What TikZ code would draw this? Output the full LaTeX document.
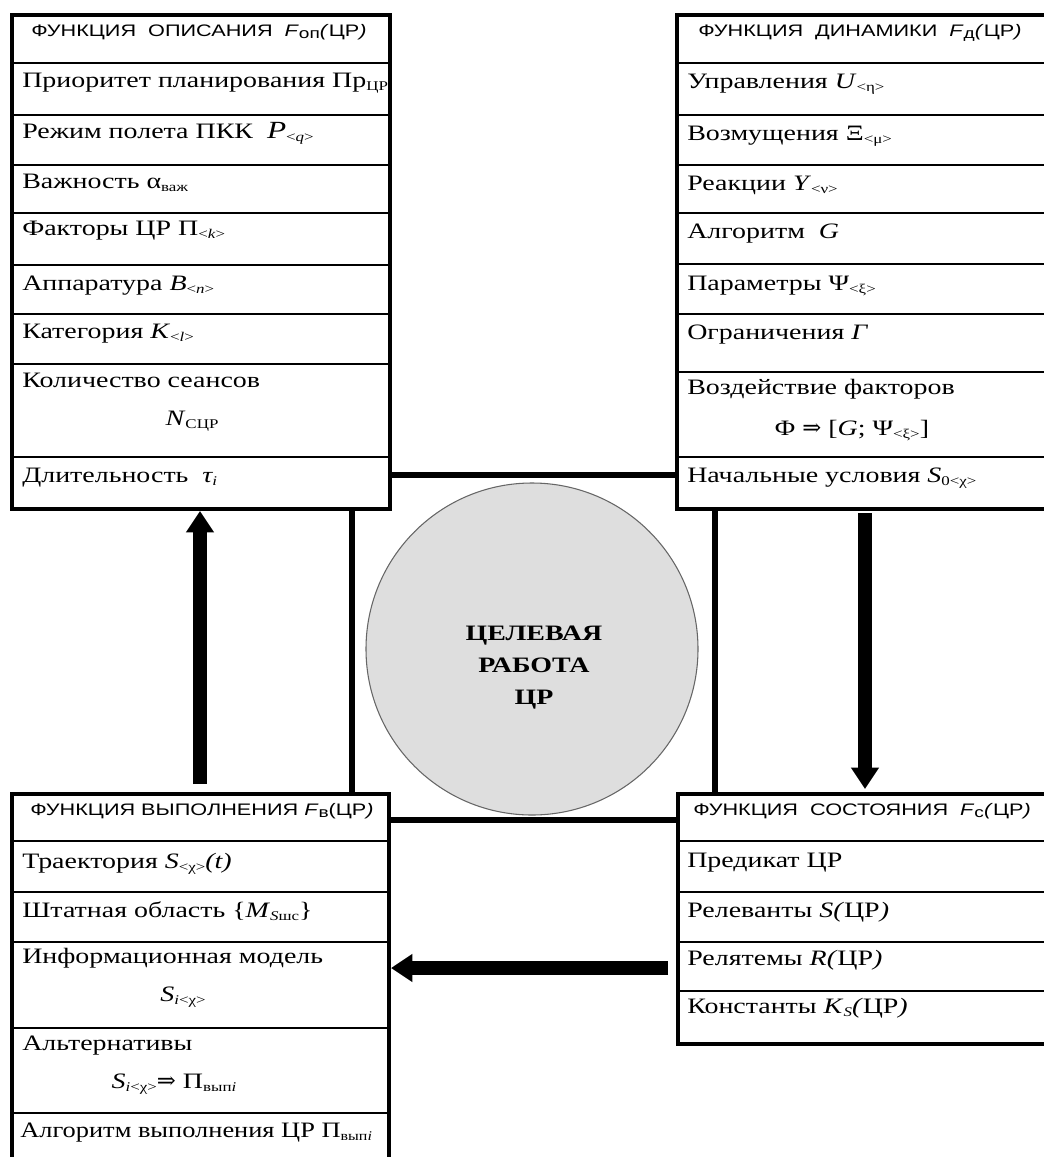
\documentclass[tikz,border=0pt]{standalone}
\usepackage{fontspec}
\setmainfont{Liberation Serif}
\newfontfamily\bodyf[FakeStretch=1.27]{Liberation Serif}
\newfontfamily\narrowf[FakeStretch=1.2]{Liberation Serif}
\newfontfamily\headf[FakeStretch=1.3]{Liberation Sans}
\newfontfamily\arrf{DejaVu Serif}
\usetikzlibrary{arrows.meta}
\newcommand\bodyfont{\bodyf\fontsize{16.5pt}{19pt}\selectfont}
\newcommand\headfont{\headf\fontsize{12.5pt}{14pt}\selectfont}
\newcommand\sbs[1]{\raisebox{-0.35ex}{\fontsize{10pt}{10pt}\selectfont #1}}
\newcommand\hsb[1]{\raisebox{-0.3ex}{\fontsize{11pt}{11pt}\selectfont #1}}
\newcommand\impl{{\arrf\fontsize{17pt}{17pt}\selectfont ⇒}}
\tikzset{
  boxo/.style={draw, line width=3pt, inner sep=0pt, anchor=north west},
  rowl/.style={line width=0.9pt},
  headl/.style={line width=2.2pt},
  txt/.style={anchor=base west, inner sep=0pt, font=\bodyfont},
  ctxt/.style={anchor=base, inner sep=0pt, font=\bodyfont},
  htxt/.style={anchor=base, inner sep=0pt, font=\headfont},
  link/.style={line width=3.8pt},
  bigarrow/.style={line width=10.5pt, -{Triangle[width=20pt,length=16pt]}},
}
\begin{document}
\begin{tikzpicture}[x=0.75pt, y=-0.75pt]
\useasboundingbox (0,0) rectangle (1043,1157);
\fill[white] (0,0) rectangle (1043,1157);

% ---------- top-left box
\node[boxo, minimum width=378*0.75pt, minimum height=494*0.75pt] (tl) at (10,13) {};
\draw[headl] (10,63) -- (388,63);
\foreach \y in {115,165,213,265,314,364,457} \draw[rowl] (10,\y) -- (388,\y);
\node[htxt] (tlh) at (199,36) {ФУНКЦИЯ\ \ ОПИСАНИЯ\ \ \textit{F}\hsb{оп}\textit{(}ЦР\textit{)}};
\node[txt] (tl1) at (22,87) {Приоритет планирования Пр\sbs{ЦР}};
\node[txt] (tl2) at (22,138) {Режим полета ПКК\ \ {\fontsize{18.5pt}{19pt}\selectfont\textit{P}}\sbs{<\textit{q}>}};
\node[txt] (tl3) at (22,188) {Важность α\sbs{важ}};
\node[txt] (tl4) at (22,235) {Факторы ЦР Π\sbs{<\textit{k}>}};
\node[txt] (tl5) at (22,290) {Аппаратура \textit{B}\sbs{<\textit{n}>}};
\node[txt] (tl6) at (22,338) {Категория \textit{K}\sbs{<\textit{l}>}};
\node[txt] (tl7) at (22,387) {Количество сеансов};
\node[ctxt] (tl8) at (192,425) {\textit{N}\sbs{СЦР}};
\node[txt] (tl9) at (22,482) {Длительность\ \ \textit{τ\sbs{i}}};

% ---------- top-right box
\node[boxo, minimum width=371*0.75pt, minimum height=494*0.75pt] (tr) at (675,13) {};
\draw[headl] (675,63) -- (1046,63);
\foreach \y in {115,165,213,264,314,372,457} \draw[rowl] (675,\y) -- (1046,\y);
\node[htxt] (trh) at (860,36) {ФУНКЦИЯ\ \ ДИНАМИКИ\ \ \textit{F}\hsb{д}\textit{(}ЦР\textit{)}};
\node[txt] (tr1) at (687,88) {Управления \textit{U}\sbs{<η>}};
\node[txt] (tr2) at (687,140) {Возмущения Ξ\sbs{<μ>}};
\node[txt] (tr3) at (687,190) {Реакции \textit{Y}\sbs{<ν>}};
\node[txt] (tr4) at (687,238) {Алгоритм\ \ \textit{G}};
\node[txt] (tr5) at (687,290) {Параметры Ψ\sbs{<ξ>}};
\node[txt] (tr6) at (687,339) {Ограничения \textit{Г}};
\node[txt] (tr7) at (687,394) {Воздействие факторов};
\node[ctxt] (tr8) at (852,435) {Φ \impl{} [\textit{G}; Ψ\sbs{<ξ>}]};
\node[txt] (tr9) at (687,482) {Начальные условия \textit{S}\sbs{0<χ>}};

% ---------- bottom-left box
\node[boxo, minimum width=377*0.75pt, minimum height=380*0.75pt] (bl) at (10,792) {};
\draw[headl] (10,841) -- (387,841);
\foreach \y in {892,942,1028,1113} \draw[rowl] (10,\y) -- (387,\y);
\node[htxt] (blh) at (202,815) {ФУНКЦИЯ ВЫПОЛНЕНИЯ \textit{F}\hsb{в}(ЦР\textit{)}};
\node[txt] (bl1) at (22,868) {Траектория \textit{S}\sbs{<χ>}\textit{(t)}};
\node[txt] (bl2) at (22,917) {Штатная область \{\textit{M}\sbs{\textit{S}шс}\}};
\node[txt] (bl3) at (22,963) {Информационная модель};
\node[ctxt] (bl4) at (183,1001) {\textit{S}\sbs{\textit{i}<χ>}};
\node[txt] (bl5) at (22,1050) {Альтернативы};
\node[ctxt] (bl6) at (174,1088) {\textit{S}\sbs{\textit{i}<χ>}\impl{} Π\sbs{вып\textit{i}}};
\node[txt, font=\narrowf\fontsize{16.5pt}{19pt}\selectfont] (bl7) at (20,1137) {Алгоритм выполнения ЦР Π\sbs{вып\textit{i}}};

% ---------- bottom-right box
\node[boxo, minimum width=370*0.75pt, minimum height=250*0.75pt] (br) at (676,792) {};
\draw[headl] (676,841) -- (1046,841);
\foreach \y in {892,942,991} \draw[rowl] (676,\y) -- (1046,\y);
\node[htxt] (brh) at (862,815) {ФУНКЦИЯ\ \ СОСТОЯНИЯ\ \ \textit{F}\hsb{с}\textit{(}ЦР\textit{)}};
\node[txt] (br1) at (687,867) {Предикат ЦР};
\node[txt] (br2) at (687,917) {Релеванты \textit{S(}ЦР\textit{)}};
\node[txt] (br3) at (687,965) {Релятемы \textit{R(}ЦР\textit{)}};
\node[txt] (br4) at (687,1013) {Константы \textit{K}\sbs{\textit{S}}\textit{(}ЦР\textit{)}};

% ---------- centre
\node[circle, draw=black!60, line width=0.8pt, fill=black!13, minimum size=332*0.75pt, inner sep=0pt] (cr) at (532,649) {};
\node[align=center, inner sep=0pt, font=\bodyf\bfseries\fontsize{16.5pt}{24pt}\selectfont] (crt) at (534,668) {ЦЕЛЕВАЯ\\РАБОТА\\ЦР};

% ---------- links
\coordinate (ty) at (0,475);
\coordinate (by) at (0,820);
\coordinate (lx) at (352,0);
\coordinate (rx) at (715,0);
\draw[link] (tl.east |- ty) -- (tr.west |- ty);
\draw[link] (bl.east |- by) -- (br.west |- by);
\draw[link] (tl.south -| lx) -- (bl.north -| lx);
\draw[link] (tr.south -| rx) -- (br.north -| rx);

% ---------- arrows
\coordinate (a1) at (200,784);
\coordinate (a2) at (865,513);
\coordinate (a2e) at (865,789);
\coordinate (a3) at (668,968);
\draw[bigarrow] (a1) -- (tl.south -| a1);
\draw[bigarrow] (a2) -- (a2e);
\draw[bigarrow, line width=10pt] (a3) -- (bl.east |- a3);
\end{tikzpicture}
\end{document}
